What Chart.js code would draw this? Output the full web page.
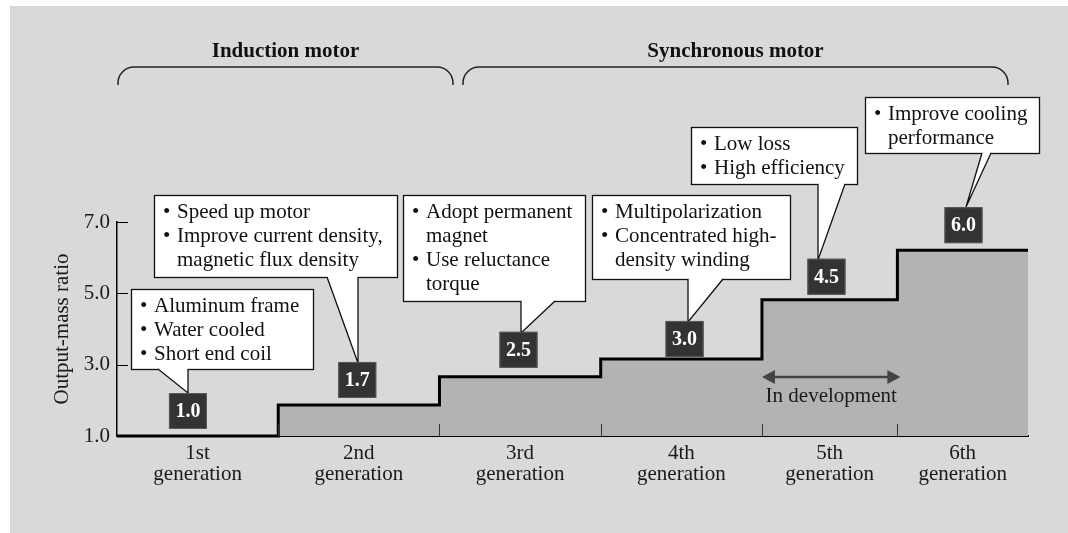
<!DOCTYPE html>
<html><head><meta charset="utf-8">
<script src="https://cdn.jsdelivr.net/npm/chart.js@4.4.1/dist/chart.umd.min.js"></script>
<style>html,body{margin:0;padding:0;background:#fff;}#wrap{width:1068px;height:533px;position:relative;}</style>
</head><body><div id="wrap"><canvas id="c" width="1068" height="533"></canvas></div>
<script>
// ---- data ----
const generations = ['1st','2nd','3rd','4th','5th','6th'];
const genEdges = [0, 1, 2, 3, 4, 4.84, 5.65];
const outputMassRatio = [1.0, 1.87, 2.66, 3.16, 4.82, 6.21];
const ratioLabels = ['1.0','1.7','2.5','3.0','4.5','6.0'];
const yTickValues = [1, 3, 5, 7];
const motorTypes = ['Induction motor','Synchronous motor'];
const improvements = [
  ['• Aluminum frame','• Water cooled','• Short end coil'],
  ['• Speed up motor','• Improve current density,','magnetic flux density'],
  ['• Adopt permanent','magnet','• Use reluctance','torque'],
  ['• Multipolarization','• Concentrated high-','density winding'],
  ['• Low loss','• High efficiency'],
  ['• Improve cooling','performance']
];
const devNote = 'In development';

// ---- layout (pixels / placement, not data) ----
const SERIF = "'Liberation Serif', 'Times New Roman', serif";
const layout = {
  labelAt: [0.44, 1.49, 2.49, 3.52, 4.40, 5.25],
  labelLift: [7, 7, 9, 2, 5, 7],
  callouts: [
    {x:131, y:289, w:182, h:80,  a:[158,369], b:[188,369], p:[188,393]},
    {x:154, y:195, w:243, h:82,  a:[327,277], b:[358,277], p:[358,363]},
    {x:403, y:195, w:182, h:106, a:[521,301], b:[555,301], p:[521,333]},
    {x:592, y:195, w:198, h:84,  a:[688,279], b:[723,279], p:[688,322]},
    {x:691, y:127, w:166, h:57,  a:[818,184], b:[845,184], p:[818,260]},
    {x:865, y:97,  w:174, h:56,  a:[982,153], b:[991,153], p:[966,207]}
  ],
  braces: [ {x1:118, x2:453}, {x1:463, x2:1008} ],
  braceY: 67, braceH: 18, braceR: 16, braceTitleY: 57
};

const decorPlugin = {
  id: 'decor',
  beforeDraw(chart) {
    const ctx = chart.ctx;
    ctx.save();
    ctx.fillStyle = '#ffffff';
    ctx.fillRect(0, 0, chart.width, chart.height);
    ctx.fillStyle = '#d9d9d9';
    ctx.fillRect(10, 6, chart.width - 10, chart.height - 6);
    ctx.restore();
  },
  afterDraw(chart) {
    const ctx = chart.ctx;
    const xs = chart.scales.x, ys = chart.scales.y;
    const area = chart.chartArea;
    ctx.save();
    // inward y tick marks
    ctx.strokeStyle = '#000'; ctx.lineWidth = 1;
    yTickValues.forEach(v => {
      if (v === ys.min) return;
      const y = Math.round(ys.getPixelForValue(v)) + 0.5;
      ctx.beginPath(); ctx.moveTo(area.left, y); ctx.lineTo(area.left + 11, y); ctx.stroke();
    });
    // category boundary ticks
    ctx.strokeStyle = '#333';
    for (let i = 1; i < genEdges.length - 1; i++) {
      const x = Math.round(xs.getPixelForValue(genEdges[i])) + 0.5;
      ctx.beginPath(); ctx.moveTo(x, area.bottom); ctx.lineTo(x, area.bottom - 12); ctx.stroke();
    }
    // In development arrow
    const ax1 = xs.getPixelForValue(genEdges[4]), ax2 = xs.getPixelForValue(genEdges[5]) + 3;
    const ay = 377;
    ctx.strokeStyle = '#444'; ctx.fillStyle = '#444'; ctx.lineWidth = 2.5;
    ctx.beginPath(); ctx.moveTo(ax1 + 8, ay); ctx.lineTo(ax2 - 8, ay); ctx.stroke();
    ctx.beginPath(); ctx.moveTo(ax1, ay); ctx.lineTo(ax1 + 13, ay - 7); ctx.lineTo(ax1 + 13, ay + 7); ctx.closePath(); ctx.fill();
    ctx.beginPath(); ctx.moveTo(ax2, ay); ctx.lineTo(ax2 - 13, ay - 7); ctx.lineTo(ax2 - 13, ay + 7); ctx.closePath(); ctx.fill();
    ctx.fillStyle = '#1a1a1a'; ctx.font = '21px ' + SERIF; ctx.textAlign = 'center'; ctx.textBaseline = 'alphabetic';
    ctx.fillText(devNote, (ax1 + ax2) / 2, 402);

    // callouts
    layout.callouts.forEach((c, k) => {
      ctx.fillStyle = '#fff'; ctx.strokeStyle = '#111'; ctx.lineWidth = 1.3;
      ctx.fillRect(c.x, c.y, c.w, c.h);
      ctx.strokeRect(c.x + 0.5, c.y + 0.5, c.w, c.h);
      ctx.beginPath(); ctx.moveTo(c.a[0], c.a[1]); ctx.lineTo(c.p[0], c.p[1]); ctx.lineTo(c.b[0], c.b[1]); ctx.closePath(); ctx.fill();
      ctx.fillRect(c.a[0] + 1.5, c.a[1] - 1, c.b[0] - c.a[0] - 2.5, 3);
      ctx.beginPath(); ctx.moveTo(c.a[0], c.a[1]); ctx.lineTo(c.p[0], c.p[1]); ctx.lineTo(c.b[0], c.b[1]); ctx.stroke();
      ctx.fillStyle = '#111'; ctx.font = '21px ' + SERIF; ctx.textAlign = 'left'; ctx.textBaseline = 'alphabetic';
      improvements[k].forEach((line, j) => {
        const by = c.y + 22.5 + j * 24.3;
        if (line.startsWith('• ')) {
          ctx.fillText('•', c.x + 9, by);
          ctx.fillText(line.slice(2), c.x + 23, by);
        } else {
          ctx.fillText(line, c.x + 23, by);
        }
      });
    });

    // value boxes
    ratioLabels.forEach((lab, i) => {
      const cx = xs.getPixelForValue(layout.labelAt[i]);
      const bottom = ys.getPixelForValue(outputMassRatio[i]) - layout.labelLift[i];
      const w = 38, h = 36;
      ctx.fillStyle = '#333'; ctx.strokeStyle = '#5a5a5a'; ctx.lineWidth = 1;
      ctx.fillRect(cx - w / 2, bottom - h, w, h);
      ctx.strokeRect(cx - w / 2 + 0.5, bottom - h + 0.5, w - 1, h - 1);
      ctx.fillStyle = '#fff'; ctx.font = 'bold 20px ' + SERIF; ctx.textAlign = 'center'; ctx.textBaseline = 'middle';
      ctx.fillText(lab, cx, bottom - h / 2 + 1);
    });

    // braces + group titles
    ctx.strokeStyle = '#222'; ctx.lineWidth = 1.5;
    layout.braces.forEach((b, i) => {
      const y = layout.braceY, h = layout.braceH, r = layout.braceR;
      ctx.beginPath();
      ctx.moveTo(b.x1, y + h);
      ctx.arcTo(b.x1, y, b.x1 + r, y, r);
      ctx.lineTo(b.x2 - r, y);
      ctx.arcTo(b.x2, y, b.x2, y + h, r);
      ctx.lineTo(b.x2, y + h);
      ctx.stroke();
      ctx.fillStyle = '#111'; ctx.font = 'bold 21px ' + SERIF; ctx.textAlign = 'center'; ctx.textBaseline = 'alphabetic';
      ctx.fillText(motorTypes[i], (b.x1 + b.x2) / 2, layout.braceTitleY);
    });
    ctx.restore();
  }
};

const stepPoints = genEdges.map((x, i) => ({ x: x, y: outputMassRatio[Math.min(i, outputMassRatio.length - 1)] }));

new Chart(document.getElementById('c'), {
  type: 'line',
  data: {
    datasets: [{
      data: stepPoints,
      stepped: 'before',
      borderColor: '#000',
      borderWidth: 3,
      backgroundColor: '#b3b3b3',
      fill: 'start',
      pointRadius: 0,
      clip: false,
      borderJoinStyle: 'miter'
    }]
  },
  options: {
    responsive: false,
    animation: false,
    devicePixelRatio: 1,
    layout: { padding: { top: 222, right: 40, bottom: 37, left: 0 } },
    plugins: { legend: { display: false }, tooltip: { enabled: false } },
    scales: {
      x: {
        type: 'linear', z: 1,
        min: genEdges[0], max: genEdges[genEdges.length - 1],
        grid: { display: false, drawTicks: false },
        border: { display: true, color: '#000', width: 2 },
        afterBuildTicks: s => { s.ticks = generations.map((g, i) => ({ value: (genEdges[i] + genEdges[i + 1]) / 2 })); },
        afterFit: s => { s.height = 60; },
        ticks: {
          autoSkip: false, maxRotation: 0, minRotation: 0, padding: 7, color: '#1a1a1a',
          font: { family: SERIF, size: 21, lineHeight: 1.0 },
          callback: (v, i) => [generations[i], 'generation']
        }
      },
      y: {
        type: 'linear', z: 1,
        min: 1, max: 7,
        afterBuildTicks: s => { s.ticks = yTickValues.map(v => ({ value: v })); },
        grid: { display: false, drawTicks: false },
        border: { display: true, color: '#000', width: 1.5 },
        afterFit: s => { s.width = 117; },
        ticks: { padding: 7, color: '#1a1a1a', font: { family: SERIF, size: 21 }, callback: v => v.toFixed(1) },
        title: { display: true, text: 'Output-mass ratio', color: '#1a1a1a', font: { family: SERIF, size: 21, lineHeight: 1.2 }, padding: { top: 50, bottom: 0 } }
      }
    }
  },
  plugins: [decorPlugin]
});
</script></body></html>
